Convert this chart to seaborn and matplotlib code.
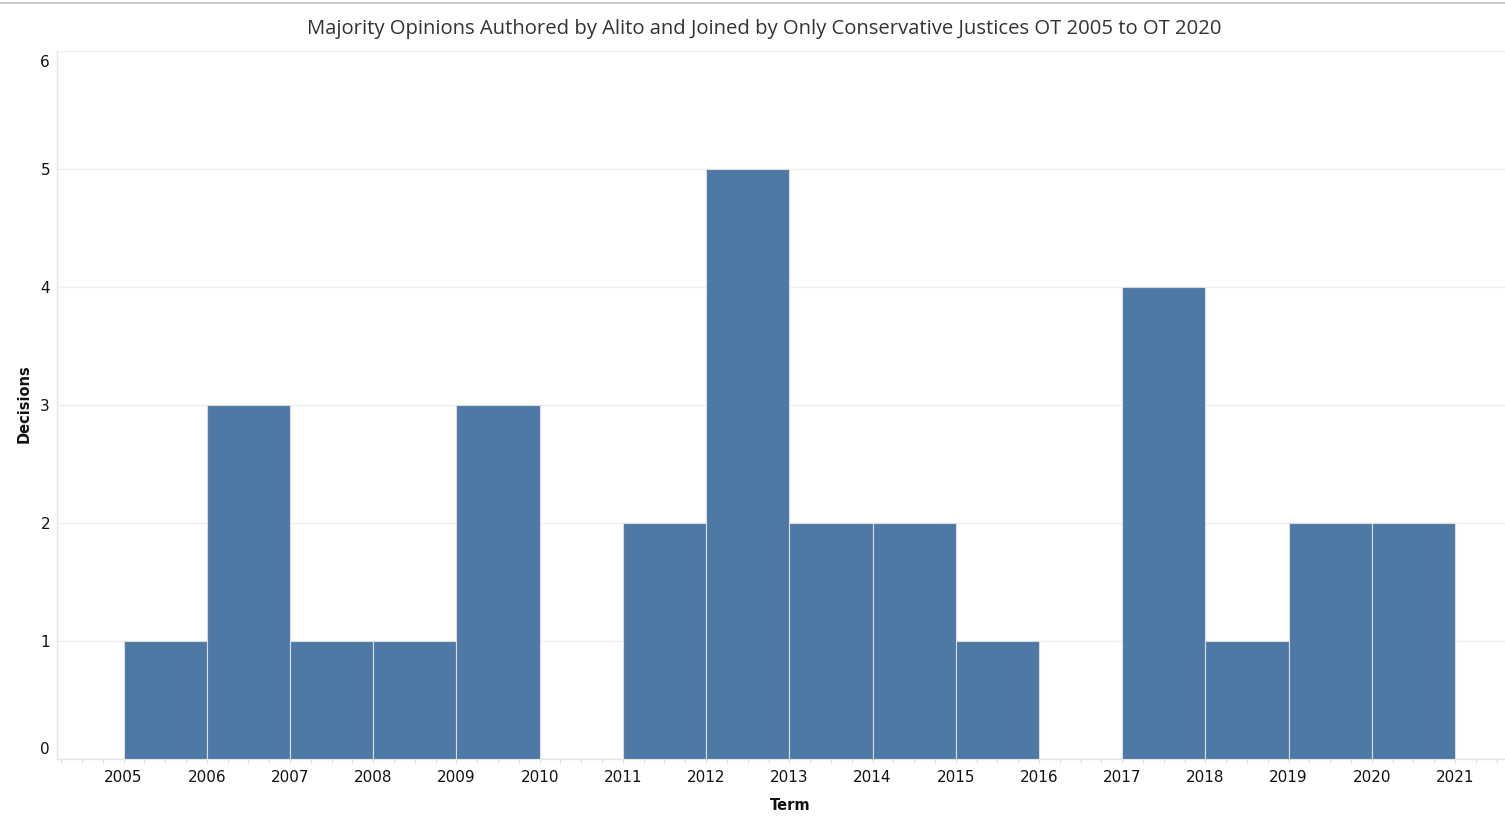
import matplotlib
matplotlib.use("Agg")
import matplotlib.pyplot as plt
import matplotlib.transforms as mtransforms
import seaborn as sns
import pandas as pd
from matplotlib.ticker import MultipleLocator
from matplotlib.lines import Line2D

terms = [2005, 2006, 2007, 2008, 2009, 2010, 2011, 2012, 2013, 2014, 2015, 2016, 2017, 2018, 2019, 2020]
decisions = [1, 3, 1, 1, 3, 0, 2, 5, 2, 2, 1, 0, 4, 1, 2, 2]
xtick_labels = list(range(2005, 2022))
ytick_labels = [0, 1, 2, 3, 4, 5, 6]

df = pd.DataFrame({"Term": terms, "Decisions": decisions})

sns.set_theme(style="white")
plt.rcParams['font.family'] = ['DejaVu Sans']

W, H = 1505, 833
fig = plt.figure(figsize=(W / 100, H / 100), dpi=100)
ax = fig.add_axes([57 / W, 1 - 759 / H, (1505 - 57) / W, (759 - 51) / H])

sns.histplot(data=df, x="Term", weights="Decisions", binwidth=1, binrange=(2005, 2021),
             color="#4e79a7", alpha=1.0, edgecolor="#dcdcdc", linewidth=0.8, ax=ax, zorder=3)

ax.set_xlim(2004.2, 2021.6)
ax.set_ylim(0, 6)
ax.set_xticks(xtick_labels)
ax.set_xticklabels([str(t) for t in xtick_labels])
ax.xaxis.set_minor_locator(MultipleLocator(0.25))
ax.set_yticks(ytick_labels)
ax.set_yticklabels([str(t) for t in ytick_labels])

ax.grid(axis="y", color="#efefef", linewidth=1.0, zorder=0)
ax.grid(axis="x", visible=False)
for s in ["top", "right"]:
    ax.spines[s].set_visible(False)
ax.spines["left"].set_color("#e6e6e6")
ax.spines["bottom"].set_color("#e6e6e6")
ax.spines["left"].set_linewidth(1.0)
ax.spines["bottom"].set_linewidth(1.0)

ax.tick_params(axis="x", which="both", bottom=True, length=3, color="#e0e0e0", width=0.8,
               labelsize=11, labelcolor="#111111", pad=5)
ax.tick_params(axis="y", which="both", left=False, length=0, labelsize=11, labelcolor="#111111", pad=5)

ylabels = ax.get_yticklabels()
ylabels[0].set_va("bottom")
ylabels[0].set_transform(ylabels[0].get_transform() + mtransforms.ScaledTranslation(0, 2 / 100, fig.dpi_scale_trans))
ylabels[-1].set_va("top")
ylabels[-1].set_transform(ylabels[-1].get_transform() + mtransforms.ScaledTranslation(0, -4 / 100, fig.dpi_scale_trans))

ax.set_xlabel("Term", fontsize=10.5, fontweight="bold", color="#111111")
ax.xaxis.set_label_coords((790 - 57) / (1505 - 57), -(798 - 759) / (759 - 51))
ax.set_ylabel("")
fig.text(24 / W, 1 - 404 / H, "Decisions", rotation=90, ha="center", va="center",
         fontsize=10.5, fontweight="bold", color="#111111")

fig.text(764.5 / W, 1 - 29 / H,
         "Majority Opinions Authored by Alito and Joined by Only Conservative Justices OT 2005 to OT 2020",
         ha="center", va="center", fontsize=14.6, color="#333333", family=["Open Sans", "DejaVu Sans"])

fig.add_artist(Line2D([0, 1], [1 - 3 / H, 1 - 3 / H], transform=fig.transFigure, color="#cccccc", linewidth=1.5))

fig.savefig("out.png", dpi=100, facecolor="white")
